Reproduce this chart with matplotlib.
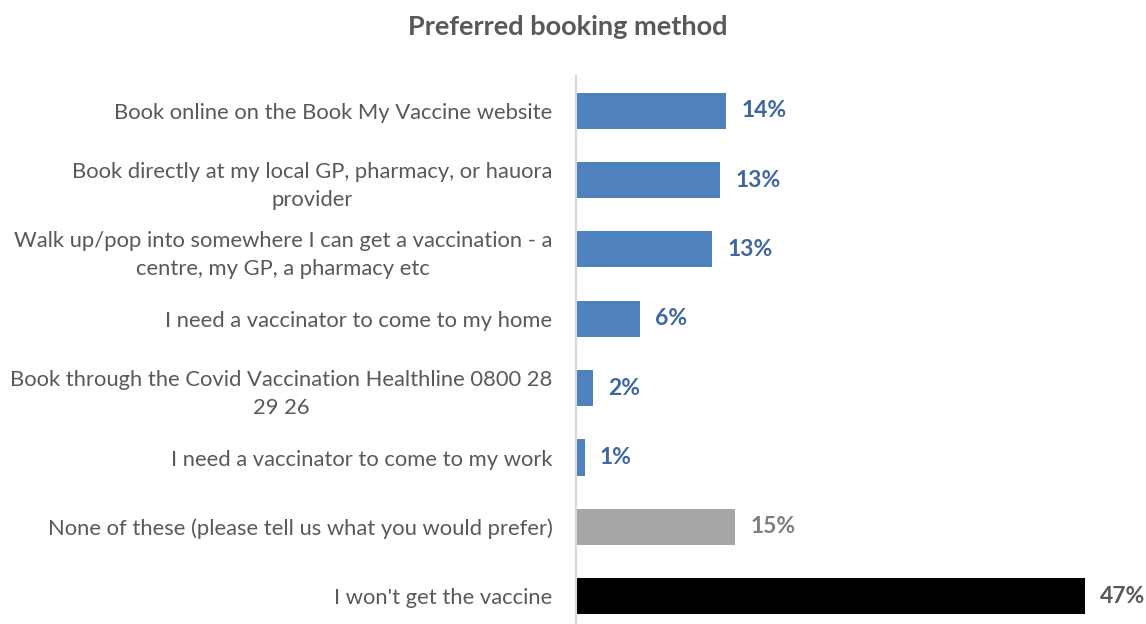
import numpy as np
import matplotlib.pyplot as plt

# chart data
categories = [
    "Book online on the Book My Vaccine website",
    "Book directly at my local GP, pharmacy, or hauora\nprovider",
    "Walk up/pop into somewhere I can get a vaccination - a\ncentre, my GP, a pharmacy etc",
    "I need a vaccinator to come to my home",
    "Book through the Covid Vaccination Healthline 0800 28\n29 26",
    "I need a vaccinator to come to my work",
    "None of these (please tell us what you would prefer)",
    "I won't get the vaccine",
]
values = [13.9, 13.3, 12.6, 5.9, 1.6, 0.8, 14.7, 47.0]
bar_colors = ["#4F81BD"] * 6 + ["#A6A6A6", "#000000"]
label_colors = ["#3E67A0"] * 6 + ["#7F7F7F", "#595959"]

plt.rcParams['font.family'] = ['Lato', 'DejaVu Sans']

fig = plt.figure(figsize=(11.46, 6.24), dpi=100)
ax = fig.add_axes([576 / 1146, 0.0, 554 / 1146, 1 - 76 / 624])

y = np.arange(len(categories))
ax.barh(y, values, height=0.52, color=bar_colors)

for yi, v, c in zip(y, values, label_colors):
    ax.annotate(f"{round(v)}%", xy=(v, yi), xytext=(11, 0), textcoords='offset points',
                ha='left', va='center', fontsize=16.5, fontweight='bold', color=c)

ax.set_xlim(0, 51.2)
ax.set_ylim(7.4, -0.5)
ax.set_yticks(y)
ax.set_yticklabels(categories, fontsize=15.8, color="#595959")
for t in ax.get_yticklabels():
    t.set_multialignment('center')
    t.set_linespacing(1.5)
ax.tick_params(axis='y', length=0, pad=17)
ax.set_xticks([])

for s in ['top', 'right', 'bottom']:
    ax.spines[s].set_visible(False)
ax.spines['left'].set_color('#D9D9D9')
ax.spines['left'].set_linewidth(1.5)

fig.text(568 / 1146, 1 - 27 / 624, "Preferred booking method", ha='center', va='center',
         fontsize=19.5, fontweight='bold', color="#595959")

fig.savefig("out.png", dpi=100)
